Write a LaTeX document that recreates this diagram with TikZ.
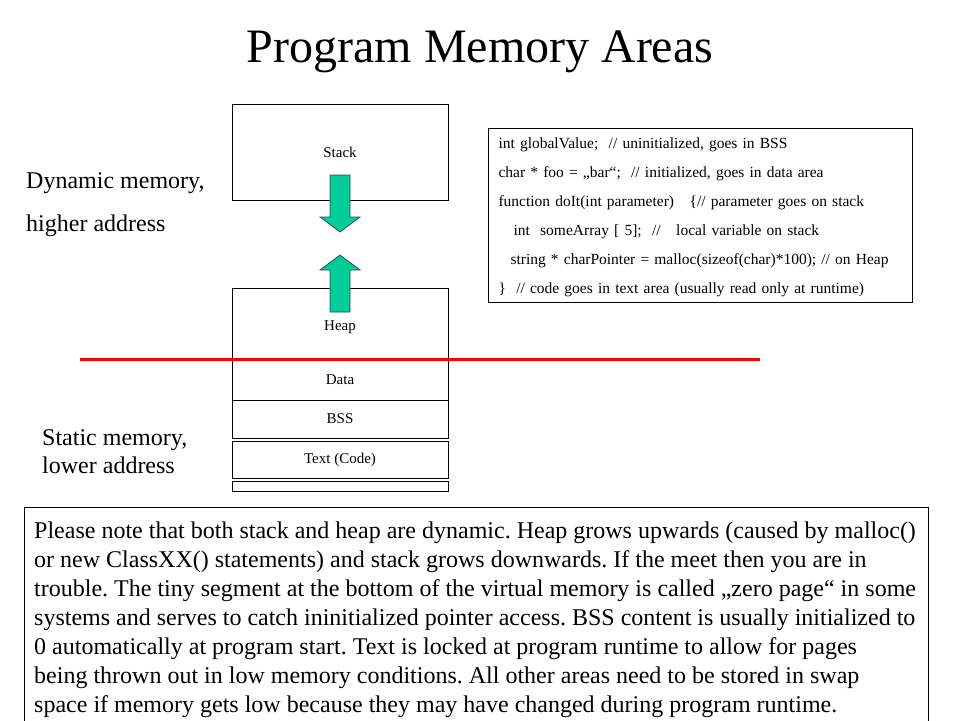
\documentclass[tikz,border=0pt]{standalone}
\usepackage{fontspec}
\setmainfont{Liberation Serif}
\usepackage{tikz}
\usetikzlibrary{positioning}
\usepackage{xcolor}
\definecolor{arrowgreen}{HTML}{00CC99}
\definecolor{arrowline}{HTML}{2F4F4F}
\frenchspacing

\tikzset{
  segment/.style={draw, line width=1pt, minimum width=216pt, inner sep=0pt, font=\fontsize{15}{18}\selectfont},
  growarrow/.style={draw=arrowline, line width=0.8pt, fill=arrowgreen},
  sidelabel/.style={anchor=base west, inner sep=0pt, font=\fontsize{24}{29}\selectfont},
  codebox/.style={draw, line width=1pt, anchor=north west, align=left, text width=404pt, inner xsep=10pt, inner ysep=6pt, font=\fontsize{15.5}{29}\selectfont},
  noteframe/.style={draw, line width=1pt, anchor=north west, minimum width=904pt, minimum height=225pt, inner sep=0pt},
  notetext/.style={anchor=north west, align=left, inner sep=0pt, font=\fontsize{24}{29}\selectfont}
}

\begin{document}
\begin{tikzpicture}[x=1pt, y=-1pt]
    \useasboundingbox (0, 0) rectangle (960, 720);

    \node[anchor=base, inner sep=0pt, font=\fontsize{48}{56}\selectfont] (title) at (480, 62) {Program Memory Areas};

    % memory segments
    \node[segment, minimum height=96pt] (stack) at (340, 152) {Stack};
    \node[segment, minimum height=72pt] (heap) at (340, 324) {\raisebox{-6pt}[0pt][0pt]{Heap}};
    \node[segment, minimum height=40pt] (data) at (340, 380) {Data};
    \node[segment, minimum height=38pt] (bss) at (340, 419) {BSS};
    \node[segment, minimum height=37pt] (text) at (340, 459.5) {Text (Code)};
    \node[segment, minimum height=10pt] (zero) at (340, 486) {};

    % growth arrows
    \draw[growarrow] (330, 175) -- (350, 175) -- (350, 217) -- (360, 217) -- (340, 232) -- (320, 217) -- (330, 217) -- cycle;
    \draw[growarrow] (330, 312) -- (350, 312) -- (350, 270) -- (360, 270) -- (340, 255) -- (320, 270) -- (330, 270) -- cycle;

    % boundary static / dynamic
    \coordinate (splitL) at (80, 359.5);
    \coordinate (splitR) at (760, 359.5);
    \draw[red, line width=2.5pt] (splitL) -- (splitR);

    \node[sidelabel] (dyn1) at (26, 188) {Dynamic memory,};
    \node[sidelabel] (dyn2) at (26, 231) {higher address};
    \node[sidelabel] (stat1) at (42, 445) {Static memory,};
    \node[sidelabel] (stat2) at (42, 473) {lower address};

    \node[codebox] (code) at (488, 128) {\rule{0pt}{14pt}int globalValue;\ \ // uninitialized, goes in BSS\\
      char * foo = „bar“;\ \ // initialized, goes in data area\\
      function doIt(int parameter)\ \ \ \{// parameter goes on stack\\
      \hspace*{15pt}int\ \ someArray [ 5];\ \ //\ \ \ local variable on stack\\
      \hspace*{12pt}string * charPointer = malloc(sizeof(char)*100); // on Heap\\
      \}\ \ // code goes in text area (usually read only at runtime)};

    % note at the bottom
    \node[noteframe] (note) at (24, 507) {};
    \node[notetext] (notetxt) at (34, 521) {\rule{0pt}{17pt}Please note that both stack and heap are dynamic. Heap grows upwards (caused by malloc()\\
      or new ClassXX() statements) and stack grows downwards. If the meet then you are in\\
      trouble. The tiny segment at the bottom of the virtual memory is called „zero page“ in some\\
      systems and serves to catch ininitialized pointer access. BSS content is usually initialized to\\
      0 automatically at program start. Text is locked at program runtime to allow for pages\\
      being thrown out in low memory conditions. All other areas need to be stored in swap\\
      space if memory gets low because they may have changed during program runtime.};
\end{tikzpicture}
\end{document}
